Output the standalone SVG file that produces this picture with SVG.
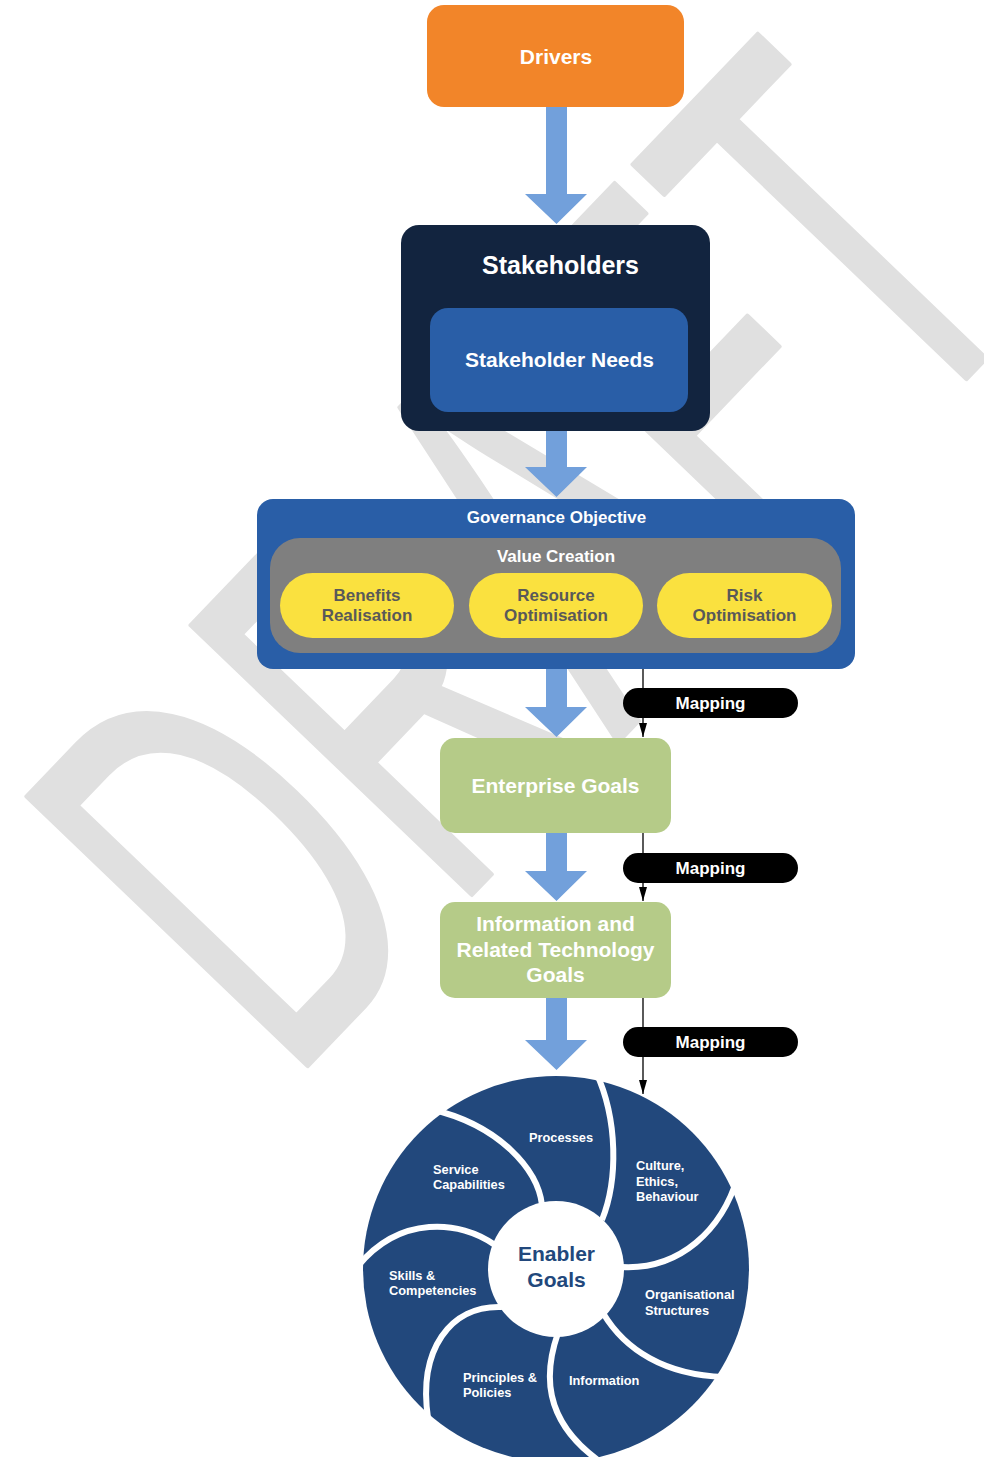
<svg xmlns="http://www.w3.org/2000/svg" width="984" height="1457" viewBox="0 0 984 1457">
  <style>
    .t { font-family: "Liberation Sans", Arial, sans-serif; font-weight: bold; text-anchor: middle; }
    .wht { fill: #ffffff; }
    .pilltxt { fill: #595959; font-size: 17px; }
    .seg { font-family: "Liberation Sans", Arial, sans-serif; font-weight: bold; font-size: 12.8px; fill: #ffffff; }
    .flow { fill: #72A0DB; }
    .maplbl { fill: #000000; }
    .sep { stroke: #ffffff; stroke-width: 6; fill: none; }
    .watermark { font-family: "Liberation Sans", Arial, sans-serif; font-size: 565px; fill: #e0e0e0; stroke: #e0e0e0; stroke-width: 5; stroke-linejoin: round; }
  </style>

  <rect width="984" height="1457" fill="#ffffff"/>

  <!-- background watermark -->
  <text class="watermark" x="-996" y="967" letter-spacing="8" transform="translate(-5 -5) rotate(-1.2 532 549) rotate(-45) scale(0.57 1)">DRAFT</text>

  <!-- connectors: block arrows and mapping links -->
  <g id="connectors">
    <polygon class="flow" points="546,107 567,107 567,194 587,194 556.5,224 525,194 546,194"/>
    <polygon class="flow" points="546,430 567,430 567,467 587,467 556.5,497 525,467 546,467"/>
    <polygon class="flow" points="546,669 567,669 567,707 587,707 556.5,737 525,707 546,707"/>
    <polygon class="flow" points="546,833 567,833 567,871 587,871 556.5,901 525,871 546,871"/>
    <polygon class="flow" points="546,998 567,998 567,1040 587,1040 556.5,1070 525,1040 546,1040"/>

    <path d="M643,669 V737" stroke="#000" stroke-width="1.3"/>
    <polygon points="639,723 647,723 643,737" fill="#000"/>
    <path d="M643,833 V901" stroke="#000" stroke-width="1.3"/>
    <polygon points="639,887 647,887 643,901" fill="#000"/>
    <path d="M643,998 V1094" stroke="#000" stroke-width="1.3"/>
    <polygon points="639,1080 647,1080 643,1094" fill="#000"/>

    <g id="map-1">
      <rect class="maplbl" x="623" y="688" width="175" height="30" rx="15"/>
      <text class="t wht" x="710.5" y="709" font-size="17">Mapping</text>
    </g>
    <g id="map-2">
      <rect class="maplbl" x="623" y="853" width="175" height="30" rx="15"/>
      <text class="t wht" x="710.5" y="874" font-size="17">Mapping</text>
    </g>
    <g id="map-3">
      <rect class="maplbl" x="623" y="1027" width="175" height="30" rx="15"/>
      <text class="t wht" x="710.5" y="1048" font-size="17">Mapping</text>
    </g>
  </g>

  <g id="drivers">
    <rect x="427" y="5" width="257" height="102" rx="17" fill="#F28529"/>
    <text class="t wht" x="556" y="63.5" font-size="21">Drivers</text>
  </g>

  <g id="stakeholders">
    <rect x="401" y="225" width="309" height="206" rx="18" fill="#12243F"/>
    <text class="t wht" x="560.5" y="274" font-size="25">Stakeholders</text>
    <g id="stakeholder-needs">
      <rect x="430" y="308" width="258" height="104" rx="18" fill="#295EA7"/>
      <text class="t wht" x="559.5" y="366.5" font-size="21">Stakeholder Needs</text>
    </g>
  </g>

  <g id="governance-objective">
    <rect x="257" y="499" width="598" height="170" rx="16" fill="#295EA7"/>
    <text class="t wht" x="556.5" y="523" font-size="17">Governance Objective</text>
    <g id="value-creation">
      <rect x="270" y="538" width="571" height="115" rx="30" fill="#7F7F7F"/>
      <text class="t wht" x="556" y="562" font-size="17">Value Creation</text>
      <g id="benefits-realisation">
        <rect x="280" y="573" width="174" height="65" rx="32.5" fill="#FAE13F"/>
        <text class="t pilltxt" x="367" y="601">Benefits</text>
        <text class="t pilltxt" x="367" y="621">Realisation</text>
      </g>
      <g id="resource-optimisation">
        <rect x="469" y="573" width="174" height="65" rx="32.5" fill="#FAE13F"/>
        <text class="t pilltxt" x="556" y="601">Resource</text>
        <text class="t pilltxt" x="556" y="621">Optimisation</text>
      </g>
      <g id="risk-optimisation">
        <rect x="657" y="573" width="175" height="65" rx="32.5" fill="#FAE13F"/>
        <text class="t pilltxt" x="744.5" y="601">Risk</text>
        <text class="t pilltxt" x="744.5" y="621">Optimisation</text>
      </g>
    </g>
  </g>

  <g id="enterprise-goals">
    <rect x="440" y="738" width="231" height="95" rx="15" fill="#B5CB88"/>
    <text class="t wht" x="555.5" y="793" font-size="21">Enterprise Goals</text>
  </g>

  <g id="it-goals">
    <rect x="440" y="902" width="231" height="96" rx="15" fill="#B5CB88"/>
    <text class="t wht" x="555.5" y="931" font-size="21">Information and</text>
    <text class="t wht" x="555.5" y="957" font-size="21">Related Technology</text>
    <text class="t wht" x="555.5" y="982" font-size="21">Goals</text>
  </g>

  <!-- enabler wheel: seven swirl segments around a central hub -->
  <g id="enabler-goals">
    <circle cx="556" cy="1269" r="193" fill="#22487C"/>
    <path class="sep" d="M596,1072 C618,1120 618,1180 602,1220"/>
    <path class="sep" d="M622,1267 C680,1270 722,1230 738,1176"/>
    <path class="sep" d="M603,1313 C625,1350 665,1375 724,1377"/>
    <path class="sep" d="M558,1333 C545,1370 540,1420 602,1463"/>
    <path class="sep" d="M502,1307 C450,1305 418,1350 428,1418"/>
    <path class="sep" d="M495,1245 C460,1220 400,1215 358,1266"/>
    <path class="sep" d="M542,1205 C538,1170 500,1125 430,1109"/>
    <circle cx="556" cy="1269" r="68" fill="#ffffff"/>
    <text class="t" x="556.5" y="1261" font-size="21" fill="#22487C">Enabler</text>
    <text class="t" x="556.5" y="1287" font-size="21" fill="#22487C">Goals</text>

    <g id="processes"><text class="seg" x="529" y="1142">Processes</text></g>
    <g id="culture">
      <text class="seg" x="636" y="1170">Culture,</text>
      <text class="seg" x="636" y="1185.5">Ethics,</text>
      <text class="seg" x="636" y="1201">Behaviour</text>
    </g>
    <g id="org-structures">
      <text class="seg" x="645" y="1299">Organisational</text>
      <text class="seg" x="645" y="1315">Structures</text>
    </g>
    <g id="information"><text class="seg" x="569" y="1385">Information</text></g>
    <g id="principles">
      <text class="seg" x="463" y="1382">Principles &amp;</text>
      <text class="seg" x="463" y="1397">Policies</text>
    </g>
    <g id="skills">
      <text class="seg" x="389" y="1280">Skills &amp;</text>
      <text class="seg" x="389" y="1295">Competencies</text>
    </g>
    <g id="service-capabilities">
      <text class="seg" x="433" y="1174">Service</text>
      <text class="seg" x="433" y="1189">Capabilities</text>
    </g>
  </g>
</svg>
